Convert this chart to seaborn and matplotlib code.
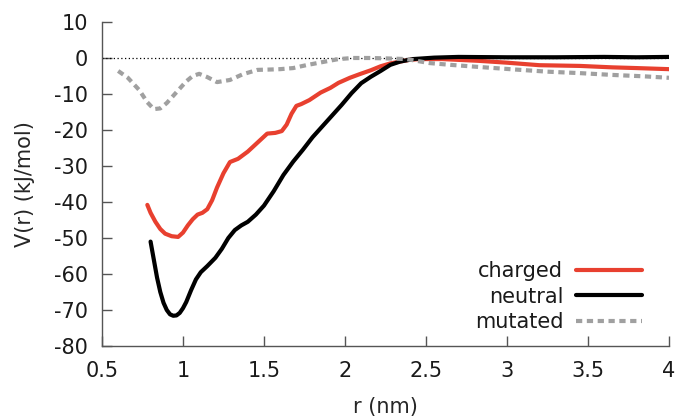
import pandas as pd
import seaborn as sns
import matplotlib.pyplot as plt

sns.set_style('ticks')
plt.rcParams['font.family'] = ['DejaVu Sans']
plt.rcParams['axes.unicode_minus'] = False
plt.rcParams['text.color'] = '#1a1a1a'
plt.rcParams['xtick.labelcolor'] = '#1a1a1a'
plt.rcParams['ytick.labelcolor'] = '#1a1a1a'

# values
r_charged = [0.78, 0.80, 0.83, 0.86, 0.89, 0.93, 0.97, 1.00, 1.03, 1.06, 1.09, 1.12, 1.15, 1.18, 1.21,
             1.25, 1.29, 1.34, 1.40, 1.46, 1.52, 1.57, 1.61, 1.64, 1.67, 1.70, 1.73, 1.78, 1.85, 1.91,
             1.96, 2.03, 2.09, 2.16, 2.22, 2.28, 2.35, 2.40, 2.46, 2.60, 2.83, 3.00, 3.20, 3.45, 3.65,
             3.80, 4.00]
v_charged = [-40.8, -43.0, -45.5, -47.5, -48.8, -49.5, -49.7, -48.5, -46.5, -44.8, -43.5, -43.0, -42.0, -39.5, -36.0,
             -32.0, -28.9, -28.0, -26.0, -23.5, -21.0, -20.8, -20.3, -18.5, -15.5, -13.3, -12.8, -11.7, -9.6, -8.3,
             -6.9, -5.5, -4.5, -3.4, -2.3, -1.5, -0.9, -0.5, -0.3, -0.3, -0.8, -1.3, -2.0, -2.2, -2.6,
             -2.8, -3.1]

r_neutral = [0.80, 0.82, 0.84, 0.86, 0.88, 0.90, 0.92, 0.94, 0.96, 0.98, 1.00, 1.02, 1.05, 1.08,
             1.11, 1.15, 1.20, 1.24, 1.28, 1.32, 1.36, 1.40, 1.45, 1.50, 1.56, 1.62, 1.68, 1.74,
             1.80, 1.86, 1.92, 1.98, 2.04, 2.10, 2.16, 2.22, 2.28, 2.34, 2.42, 2.55, 2.70, 3.00,
             3.30, 3.60, 3.80, 4.00]
v_neutral = [-51.0, -56.0, -61.0, -65.0, -68.0, -70.0, -71.2, -71.6, -71.5, -70.8, -69.5, -67.8, -64.5, -61.5,
             -59.5, -57.8, -55.5, -53.0, -50.0, -47.8, -46.5, -45.5, -43.5, -41.0, -37.0, -32.5, -28.8, -25.5,
             -22.0, -19.0, -16.0, -13.0, -9.8, -7.0, -5.2, -3.6, -1.9, -1.0, -0.3, 0.1, 0.3, 0.2,
             0.2, 0.3, 0.2, 0.3]

r_mutated = [0.60, 0.66, 0.73, 0.78, 0.82, 0.86, 0.90, 0.94, 0.98, 1.02, 1.06, 1.10, 1.15, 1.21, 1.29,
             1.37, 1.46, 1.54, 1.60, 1.68, 1.76, 1.83, 1.90, 1.96, 2.05, 2.15, 2.25, 2.38, 2.52,
             2.65, 2.83, 3.05, 3.25, 3.45, 3.65, 3.85, 4.00]
v_mutated = [-3.6, -5.5, -8.9, -12.3, -14.2, -14.0, -12.5, -10.5, -8.5, -6.5, -5.0, -4.4, -5.3, -6.7, -6.1,
             -4.5, -3.3, -3.2, -3.1, -2.8, -2.0, -1.4, -0.8, -0.3, 0.0, 0.0, -0.1, -0.3, -1.4,
             -1.9, -2.5, -3.2, -3.8, -4.2, -4.7, -5.1, -5.5]

labels = ['charged', 'neutral', 'mutated']
colors = ['#e8402f', '#000000', '#a0a0a0']

df = pd.concat([
    pd.DataFrame({'r': r_charged, 'V': v_charged, 'system': 'charged'}),
    pd.DataFrame({'r': r_neutral, 'V': v_neutral, 'system': 'neutral'}),
    pd.DataFrame({'r': r_mutated, 'V': v_mutated, 'system': 'mutated'}),
])

fig = plt.figure(figsize=(6.78, 4.19), dpi=100)
ax = fig.add_axes([0.1504, 0.1742, 0.8363, 0.7733])

# zero line
ax.axhline(0, color='black', lw=0.9, ls=(0, (1, 2)), zorder=1)

ax = sns.lineplot(data=df, x='r', y='V', hue='system', style='system',
                  hue_order=labels, palette=colors,
                  dashes={'charged': '', 'neutral': '', 'mutated': (1.5, 1.1)},
                  linewidth=3, ax=ax, sort=False)

ax.set_xlim(0.5, 4)
ax.set_ylim(-80, 10)
ax.set_xticks([0.5, 1, 1.5, 2, 2.5, 3, 3.5, 4])
ax.set_xticklabels(['0.5', '1', '1.5', '2', '2.5', '3', '3.5', '4'])
ax.set_yticks(range(-80, 11, 10))

sns.despine(ax=ax)
for s in ['left', 'bottom']:
    ax.spines[s].set_color('#555555')
    ax.spines[s].set_linewidth(1)
ax.tick_params(direction='in', length=7, width=1, color='#555555', labelsize=15)
ax.tick_params(axis='x', pad=11)
ax.tick_params(axis='y', pad=10)

ax.set_xlabel('r (nm)', fontsize=15, labelpad=11)
ax.set_ylabel('V(r) (kJ/mol)', fontsize=15, labelpad=14)

leg = ax.legend(frameon=False, markerfirst=False, loc='lower right',
                bbox_to_anchor=(0.975, 0.005), fontsize=15, handlelength=3.2,
                labelspacing=0.25, handletextpad=0.6, borderaxespad=0.2)
for t in leg.get_texts():
    t.set_ha('right')

fig.savefig('out.png', dpi=100)
